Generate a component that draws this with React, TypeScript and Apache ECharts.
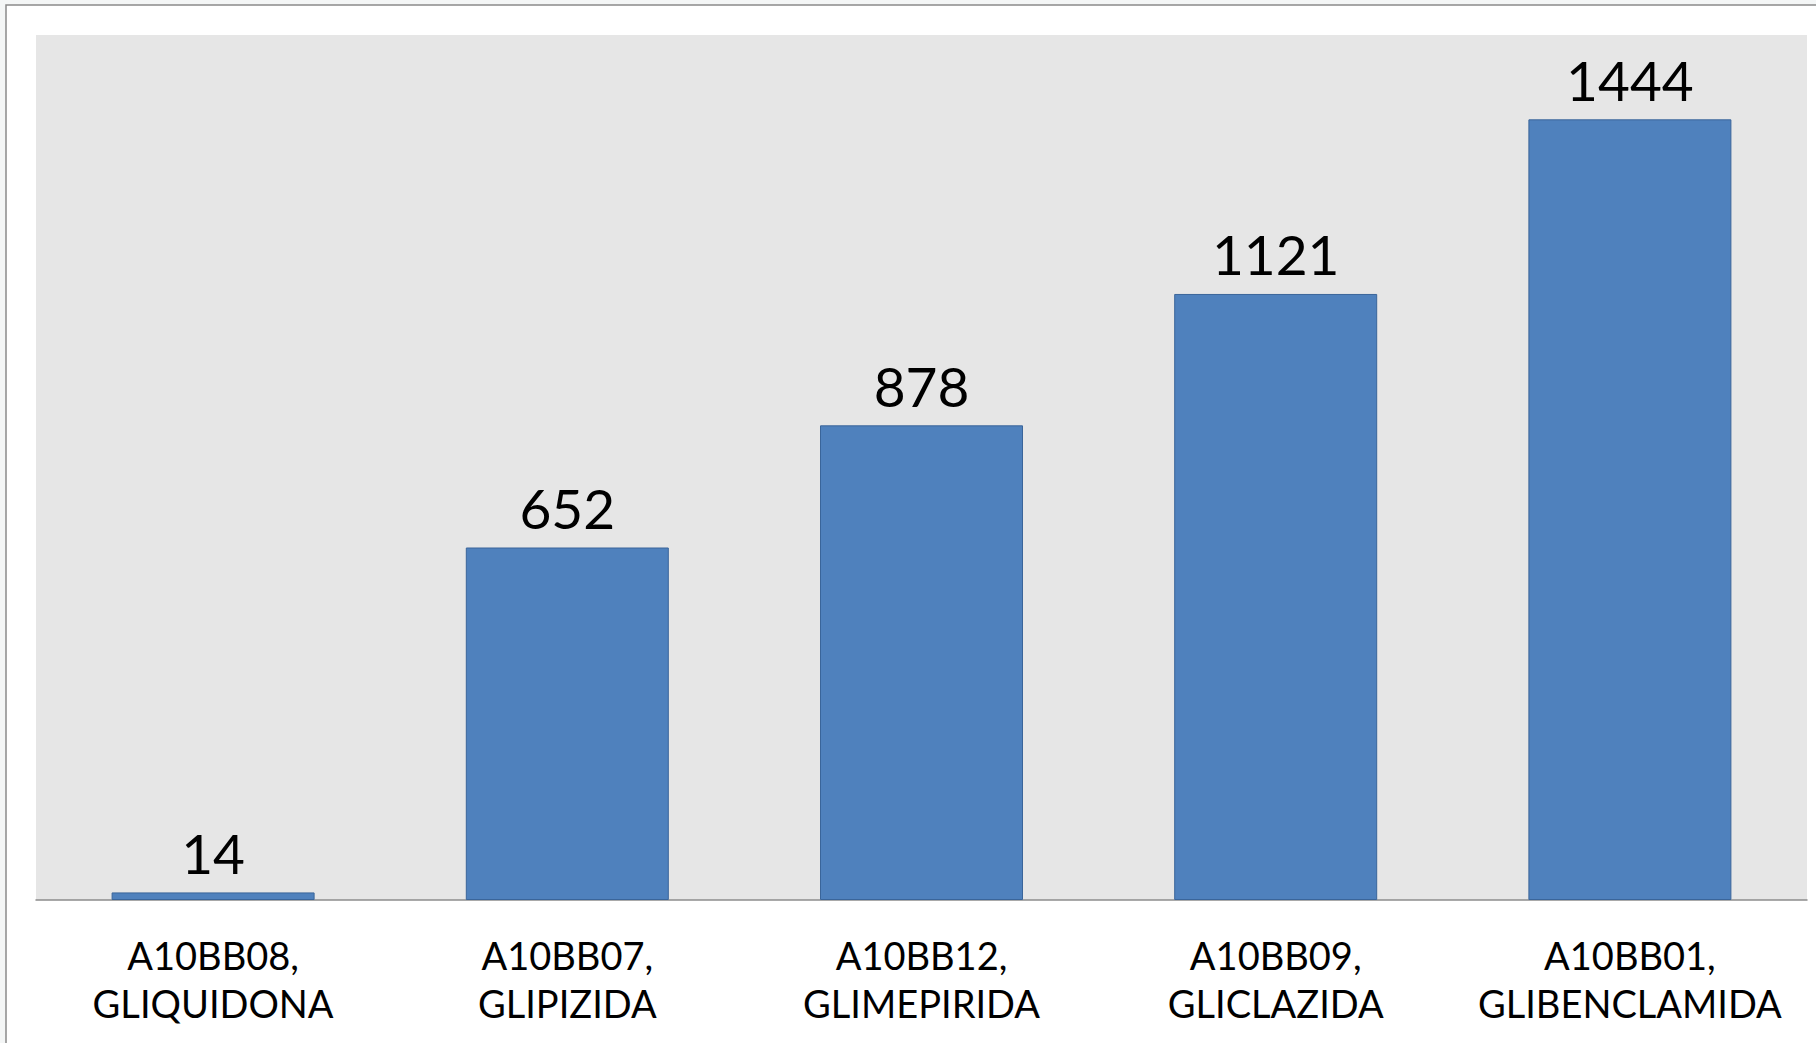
import React, { useEffect, useRef } from "react";
import * as echarts from "echarts";

const categories = [
  "A10BB08,\nGLIQUIDONA",
  "A10BB07,\nGLIPIZIDA",
  "A10BB12,\nGLIMEPIRIDA",
  "A10BB09,\nGLICLAZIDA",
  "A10BB01,\nGLIBENCLAMIDA",
];
const values = [14, 652, 878, 1121, 1444];
const yMax = 1600;

export default function App() {
  const ref = useRef<HTMLDivElement>(null);
  useEffect(() => {
    if (!ref.current) return;
    const chart = echarts.init(ref.current, undefined, { renderer: "svg" });
    chart.setOption({
      animation: false,
      backgroundColor: "#f4f6f6",
      graphic: [
        {
          type: "rect",
          z: -10,
          shape: { x: 6, y: 5, width: 2000, height: 2000 },
          style: { fill: "#ffffff", stroke: "#8a8a8a", lineWidth: 1.5 },
          silent: true,
        },
      ],
      grid: {
        left: 36,
        top: 35,
        right: 9,
        bottom: 143,
        show: true,
        backgroundColor: "#e6e6e6",
        borderWidth: 0,
        containLabel: false,
      },
      xAxis: {
        type: "category",
        data: categories,
        axisLine: { show: true, lineStyle: { color: "#8c8c8c", width: 1.5 } },
        axisTick: { show: false },
        axisLabel: {
          interval: 0,
          color: "#000000",
          fontFamily: "Lato",
          fontSize: 38,
          lineHeight: 48,
          margin: 31,
        },
      },
      yAxis: {
        type: "value",
        min: 0,
        max: yMax,
        show: false,
        splitLine: { show: false },
      },
      series: [
        {
          type: "bar",
          data: values,
          barWidth: 203,
          itemStyle: {
            color: "#4f81bd",
            borderColor: "#3a659a",
            borderWidth: 1,
          },
          label: {
            show: true,
            position: "top",
            distance: 12,
            color: "#000000",
            fontFamily: "Lato",
            fontSize: 55,
          },
        },
      ],
    });
    return () => chart.dispose();
  }, []);
  return (
    <div
      ref={ref}
      style={{ position: "absolute", left: 0, top: 0, width: 1816, height: 1043 }}
    />
  );
}
